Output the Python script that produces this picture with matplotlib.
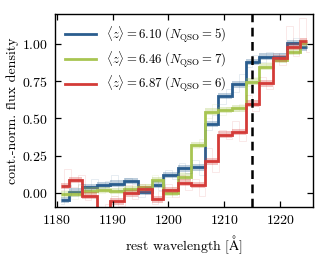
import numpy as np
import matplotlib
matplotlib.use("Agg")
import matplotlib.pyplot as plt

# bin edges of the binned stacks [Angstrom]
edges = [1180.8, 1182.3, 1184.5, 1187.2, 1189.6, 1192.0, 1194.5, 1197.0, 1199.1, 1201.7,
         1204.0, 1206.5, 1208.9, 1211.3, 1213.8, 1216.1, 1218.6, 1221.1, 1223.5, 1224.8]

# binned continuum-normalised flux
flux_z610 = [-0.05, 0.007, 0.036, 0.052, 0.06, 0.079, 0.007, 0.05, 0.12, 0.164,
             0.17, 0.463, 0.65, 0.73, 0.88, 0.917, 0.917, 1.007, 0.98]
flux_z646 = [-0.01, -0.01, 0.013, 0.018, 0.01, 0.022, 0.036, 0.085, 0.0, 0.108,
             0.32, 0.546, 0.557, 0.568, 0.748, 0.85, 0.894, 0.95, 1.007]
flux_z687 = [0.045, 0.085, -0.02, -0.2, -0.06, -0.005, 0.022, -0.045, 0.018, 0.067,
             0.052, 0.21, 0.39, 0.407, 0.60, 0.737, 0.905, 0.985, 1.02]

# full-resolution stacks (faint), read roughly by eye
wave_fine = [1180.8, 1182.0, 1183.2, 1184.4, 1185.6, 1186.8, 1188.0, 1189.2, 1190.4, 1191.6,
             1192.8, 1194.0, 1195.2, 1196.4, 1197.6, 1198.8, 1200.0, 1201.2, 1202.4, 1203.6,
             1204.8, 1206.0, 1207.2, 1208.4, 1209.6, 1210.8, 1212.0, 1213.2, 1214.4, 1215.6,
             1216.8, 1218.0, 1219.2, 1220.4, 1221.6, 1222.8, 1224.0, 1225.2]
fine_z610 = [-0.08, 0.05, -0.02, 0.06, 0.02, 0.09, 0.03, 0.08, 0.12, 0.02,
             0.10, 0.06, -0.03, 0.04, 0.08, 0.02, 0.15, 0.09, 0.20, 0.13,
             0.22, 0.12, 0.42, 0.52, 0.60, 0.70, 0.68, 0.80, 0.85, 0.93,
             0.88, 0.95, 0.90, 0.94, 1.00, 1.04, 0.97, 1.00]
fine_z646 = [-0.03, 0.02, -0.04, 0.05, -0.01, 0.04, 0.00, 0.03, -0.02, 0.04,
             0.01, 0.05, 0.02, 0.06, 0.12, 0.05, -0.03, 0.04, 0.14, 0.08,
             0.30, 0.36, 0.50, 0.60, 0.52, 0.58, 0.55, 0.60, 0.72, 0.78,
             0.84, 0.88, 0.90, 0.88, 0.96, 0.94, 1.03, 0.98]
fine_z687 = [0.02, 0.16, 0.04, 0.12, -0.05, 0.03, -0.15, -0.08, -0.02, -0.09,
             0.05, -0.04, 0.06, -0.01, -0.08, 0.01, 0.06, -0.03, 0.12, 0.02,
             0.09, -0.02, 0.30, 0.14, 0.42, 0.36, 0.48, 0.35, 0.66, 0.55,
             0.78, 0.70, 0.94, 0.86, 1.12, 0.92, 1.18, 0.95]

labels = [r"$\langle z\rangle = 6.10\ (N_{\rm QSO} = 5)$",
          r"$\langle z\rangle = 6.46\ (N_{\rm QSO} = 7)$",
          r"$\langle z\rangle = 6.87\ (N_{\rm QSO} = 6)$"]
colors = ["#2a5d8e", "#a8c552", "#d43b38"]

plt.rcParams["font.family"] = "serif"
plt.rcParams["font.serif"] = ["cmr10"]
plt.rcParams["mathtext.fontset"] = "cm"
plt.rcParams["axes.formatter.use_mathtext"] = True

fig = plt.figure(figsize=(3.31, 2.62), dpi=100)
ax = fig.add_axes([0.166, 0.21, 0.779, 0.737])

binned = [flux_z610, flux_z646, flux_z687]
fine = [fine_z610, fine_z646, fine_z687]

for vals, fv, col, lab in zip(binned, fine, colors, labels):
    vals = np.array(vals)
    ax.step(wave_fine, fv, where="mid", color=col, lw=0.6, alpha=0.13)
    ax.stairs(vals + 0.022, edges, baseline=vals - 0.022, fill=True, color=col, alpha=0.3, lw=0)
    ax.stairs(vals, edges, baseline=None, color=col, lw=2.0, label=lab)

ax.axvline(1215.0, color="k", ls=(0, (3.5, 2.2)), lw=1.8, zorder=5)

ax.set_xlim(1179.7, 1225.8)
ax.set_ylim(-0.097, 1.205)
ax.set_xticks([1180, 1190, 1200, 1210, 1220])
ax.set_yticks([0.0, 0.25, 0.5, 0.75, 1.0])
ax.tick_params(direction="in", top=True, right=True, labelsize=10, length=4, width=0.9, pad=5)
for s in ax.spines.values():
    s.set_linewidth(1.0)

ax.set_xlabel(r"rest wavelength [$\mathrm{\AA}$]", fontsize=10, labelpad=5)
ax.set_ylabel("cont.-norm. flux density", fontsize=10, labelpad=2)

ax.legend(loc="upper left", frameon=False, fontsize=9.2, handlelength=2.4,
          labelspacing=0.3, borderaxespad=0.4, handletextpad=0.8)

fig.savefig("out.png", dpi=100)
